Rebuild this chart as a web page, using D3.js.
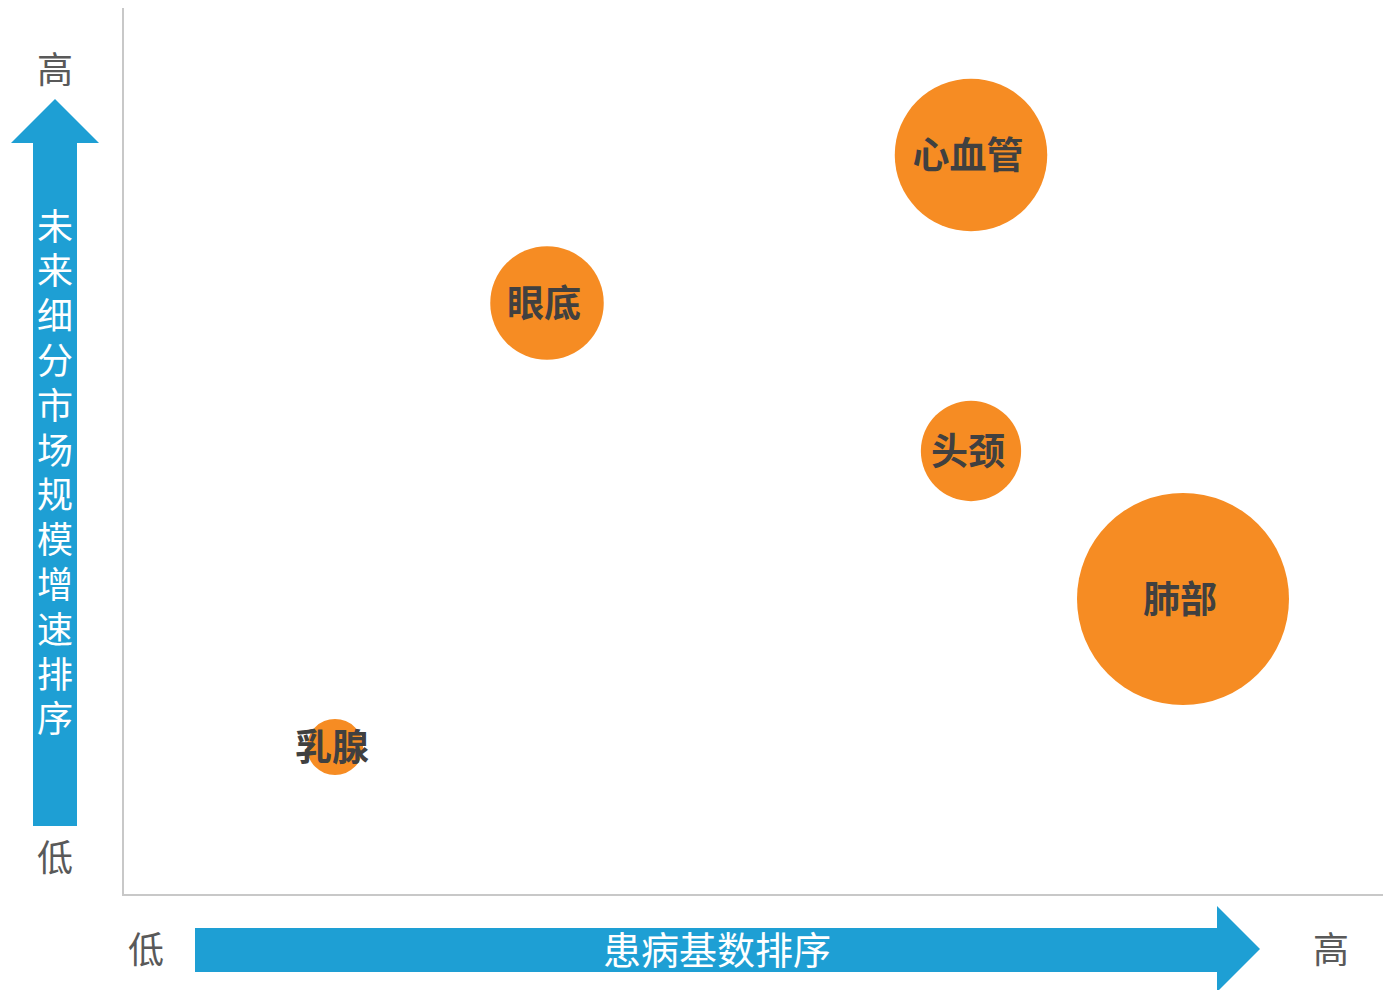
<!DOCTYPE html>
<html><head><meta charset="utf-8">
<script src="https://cdn.jsdelivr.net/npm/d3@7"></script>
<style>
html,body{margin:0;padding:0;background:#fff;}
svg{display:block;font-family:"Noto Sans CJK SC","Noto Sans",sans-serif;}
</style></head>
<body>
<svg id="c" width="1383" height="990"></svg>
<script>
const categories = ["心血管", "眼底", "头颈", "肺部", "乳腺"];
const patientRank = [4, 2, 4, 5, 1];      // x: 患病基数排序
const growthRank = [5, 4, 3, 2, 1];       // y: 未来细分市场规模增速排序
const marketSize = [7.4, 4.1, 3.2, 14.3, 1]; // bubble size
const xAxisTitle = "患病基数排序";
const yAxisTitle = "未来细分市场规模增速排序";
const lowLabel = "低", highLabel = "高";

const svg = d3.select("#c");
const x = d3.scaleLinear().domain([0, 6]).range([123, 1395]);
const y = d3.scaleLinear().domain([0, 6]).range([895, 7]);
const r = d3.scaleSqrt().domain([0, d3.max(marketSize)]).range([0, 106]);

const blue = "#1e9fd4", orange = "#f68c23", grey = "#595959";

// axis lines
svg.append("line").attr("x1", 123).attr("x2", 123).attr("y1", 8).attr("y2", 895)
  .attr("stroke", "#c8c8c8").attr("stroke-width", 2);
svg.append("line").attr("x1", 122).attr("x2", 1383).attr("y1", 895).attr("y2", 895)
  .attr("stroke", "#c8c8c8").attr("stroke-width", 2);

// vertical arrow
svg.append("path").attr("fill", blue)
  .attr("d", "M33,826 L33,143 L11,143 L55,99 L99,143 L77,143 L77,826 Z");
// horizontal arrow
svg.append("path").attr("fill", blue)
  .attr("d", "M195,928 L1217,928 L1217,906 L1260,949 L1217,992 L1217,972 L195,972 Z");

// low/high labels
const lh = [[55, 67, highLabel], [55, 855, lowLabel], [146, 947, lowLabel], [1331, 947, highLabel]];
svg.selectAll("text.lh").data(lh).join("text").attr("class", "lh")
  .attr("x", d => d[0]).attr("y", d => d[1])
  .attr("text-anchor", "middle").attr("dominant-baseline", "central")
  .attr("font-size", 36).attr("fill", grey).text(d => d[2]);

// x axis title
svg.append("text").attr("x", 717).attr("y", 947)
  .attr("text-anchor", "middle").attr("dominant-baseline", "central")
  .attr("font-size", 38).attr("fill", "#fff").text(xAxisTitle);

// y axis title (vertical)
svg.append("text")
  .attr("x", 55).attr("y", 208)
  .style("writing-mode", "vertical-rl").style("text-orientation", "upright")
  .style("letter-spacing", "8.8px")
  .attr("font-size", 36).attr("fill", "#fff").text(yAxisTitle);

// bubbles
const data = categories.map((c, i) => ({c, px: patientRank[i], gy: growthRank[i], s: marketSize[i]}));
svg.selectAll("circle.b").data(data).join("circle").attr("class", "b")
  .attr("cx", d => x(d.px)).attr("cy", d => y(d.gy)).attr("r", d => r(d.s))
  .attr("fill", orange);
svg.selectAll("text.bl").data(data).join("text").attr("class", "bl")
  .attr("x", d => x(d.px) - 3).attr("y", d => y(d.gy) - 2)
  .attr("text-anchor", "middle").attr("dominant-baseline", "central")
  .attr("font-size", 37).attr("font-weight", 700).attr("fill", "#404040")
  .text(d => d.c);
</script>
</body></html>
